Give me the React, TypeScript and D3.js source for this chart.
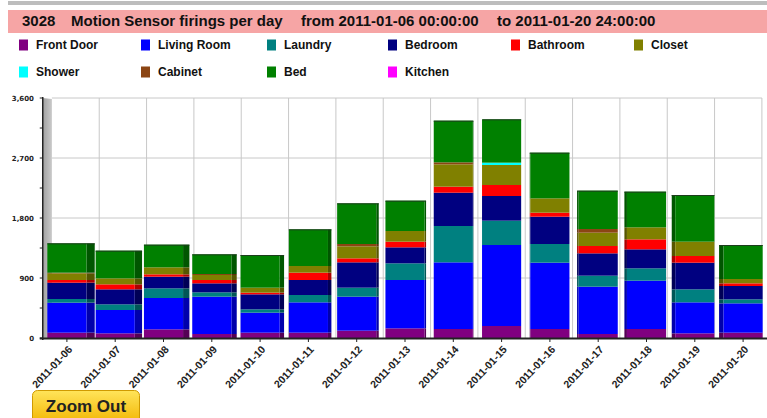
import React from "react";
import * as d3 from "d3";

const dates = [
  "2011-01-06", "2011-01-07", "2011-01-08", "2011-01-09", "2011-01-10",
  "2011-01-11", "2011-01-12", "2011-01-13", "2011-01-14", "2011-01-15",
  "2011-01-16", "2011-01-17", "2011-01-18", "2011-01-19", "2011-01-20",
];

const seriesNames = [
  "Front Door", "Living Room", "Laundry", "Bedroom", "Bathroom",
  "Closet", "Shower", "Cabinet", "Bed", "Kitchen",
];

const seriesColors = [
  "#800080", "#0000FF", "#008080", "#000080", "#FF0000",
  "#808000", "#00FFFF", "#8B4513", "#008000", "#FF00FF",
];

const frontDoor = [80, 70, 130, 60, 80, 80, 110, 145, 135, 180, 135, 60, 135, 70, 80];
const livingRoom = [450, 350, 470, 560, 300, 455, 510, 725, 1000, 1215, 995, 710, 725, 465, 440];
const laundry = [55, 85, 145, 65, 50, 110, 135, 250, 545, 365, 280, 165, 185, 195, 60];
const bedroom = [245, 225, 175, 135, 225, 225, 380, 240, 500, 370, 410, 335, 285, 400, 200];
const bathroom = [40, 75, 35, 50, 25, 110, 60, 85, 90, 165, 60, 110, 150, 100, 40];
const closet = [100, 90, 105, 75, 75, 100, 180, 160, 335, 300, 215, 200, 180, 215, 65];
const shower = [0, 0, 0, 0, 0, 0, 0, 0, 0, 35, 0, 0, 0, 0, 0];
const cabinet = [10, 0, 0, 15, 0, 0, 35, 0, 30, 0, 0, 55, 0, 0, 0];
const bed = [440, 415, 340, 295, 490, 550, 610, 455, 625, 650, 685, 575, 535, 700, 510];
const kitchen = [0, 0, 0, 0, 0, 0, 0, 0, 0, 0, 0, 0, 0, 0, 0];

const yTicks = [0, 900, 1800, 2700, 3600];
const yMinorTicks = [450, 1350, 2250, 3150];

const titleParts = [
  "3028",
  "Motion Sensor firings per day",
  "from 2011-01-06 00:00:00",
  "to 2011-01-20 24:00:00",
];

const W = 767;
const H = 418;

export default function App() {
  const seriesValues = [frontDoor, livingRoom, laundry, bedroom, bathroom, closet, shower, cabinet, bed, kitchen];
  const rows = dates.map((d, i) => {
    const r: any = { date: d };
    seriesNames.forEach((s, k) => (r[s] = seriesValues[k][i]));
    return r;
  });
  const stacked = d3.stack<any>().keys(seriesNames)(rows);

  const plotLeft = 42.75;
  const plotRight = 767.25;
  const x = d3.scaleBand<string>().domain(dates).range([plotLeft, plotRight]).paddingInner(0.19).paddingOuter(0.095);
  const y = d3.scaleLinear().domain([0, 3600]).range([338, 98]);
  const step = x.step();

  const vpX = 500;
  const k = 0.02;
  const back = (v: number) => vpX + (v - vpX) * (1 - k);

  const bandEdges = d3.range(dates.length + 1).map((i) => plotLeft + i * step);
  const fmt = d3.format(",");

  const legendCols = [19, 141, 267, 388, 511, 634];
  const titleX = [22, 71, 301, 497];

  return (
    <svg width={W} height={H} style={{ position: "absolute", left: 0, top: 0, background: "#fff" }}>
      <defs>
        <linearGradient id="wall" x1="0" x2="1" y1="0" y2="0">
          <stop offset="0" stopColor="#a0a0a0" />
          <stop offset="1" stopColor="#cacaca" />
        </linearGradient>
        <linearGradient id="btn" x1="0" x2="0" y1="0" y2="1">
          <stop offset="0" stopColor="#FFE45A" />
          <stop offset="1" stopColor="#F2B400" />
        </linearGradient>
      </defs>
      <rect x={0} y={0} width={W} height={H} fill="#fff" />
      <rect x={8} y={1} width={W - 8} height={4} fill="#bdbdbd" />
      <rect x={8} y={10} width={W - 8} height={23} fill="#F6A5A5" />
      {titleParts.map((t, i) => (
        <text key={t} x={titleX[i]} y={26} fontFamily="Liberation Sans, Arial, sans-serif" fontWeight="bold" fontSize={15} fill="#111">
          {t}
        </text>
      ))}
      {seriesNames.map((s, i) => {
        const col = i % 6;
        const row = Math.floor(i / 6);
        const cy = 45 + row * 27;
        return (
          <g key={s}>
            <rect x={legendCols[col]} y={cy - 5.5} width={9} height={11} fill={seriesColors[i]} />
            <text x={legendCols[col] + 17} y={cy + 4.3} fontFamily="Liberation Sans, Arial, sans-serif" fontWeight="bold" fontSize={12} fill="#111">
              {s}
            </text>
          </g>
        );
      })}
      <g stroke="#c8c8c8" strokeWidth={1}>
        {yTicks.filter((t) => t > 0).map((t) => (
          <line key={t} x1={back(plotLeft)} x2={back(plotRight)} y1={y(t)} y2={y(t)} />
        ))}
        {bandEdges.slice(1).map((e, i) => (
          <line key={i} x1={back(e)} x2={back(e)} y1={y(3600)} y2={y(0)} />
        ))}
      </g>
      <polygon
        points={`${plotLeft},${y(3600)} ${back(plotLeft)},${y(3600) + 1} ${back(plotLeft)},${y(0)} ${plotLeft},${y(0)}`}
        fill="url(#wall)"
      />
      {stacked.map((layer, si) =>
        layer.map((seg, di) => {
          const y0 = y(seg[0]);
          const y1 = y(seg[1]);
          if (y0 - y1 <= 0) return null;
          const x0 = x(dates[di])!;
          const x1 = x0 + x.bandwidth();
          const col = seriesColors[si];
          const dark = d3.color(col)!.darker(1.1).formatHex();
          let side: string | null = null;
          if (x1 < vpX) side = `${x1},${y1} ${back(x1)},${y1} ${back(x1)},${y0} ${x1},${y0}`;
          else if (x0 > vpX) side = `${back(x0)},${y1} ${x0},${y1} ${x0},${y0} ${back(x0)},${y0}`;
          return (
            <g key={`${si}-${di}`}>
              {side && <polygon points={side} fill={dark} />}
              <rect x={x0} y={y1} width={x.bandwidth()} height={y0 - y1} fill={col} />
            </g>
          );
        })
      )}
      {dates.map((d, di) => {
        const top = stacked[stacked.length - 1][di][1];
        const x0 = x(d)!;
        const x1 = x0 + x.bandwidth();
        const xa = x1 < vpX ? x0 : back(x0);
        const xb = x1 < vpX ? back(x1) : x1;
        return <line key={d} x1={xa} x2={xb} y1={y(top) + 0.5} y2={y(top) + 0.5} stroke="#1d3d1d" strokeWidth={1} />;
      })}
      <line x1={plotLeft} x2={plotLeft} y1={y(3600) - 1} y2={y(0) + 2} stroke="#222" strokeWidth={1.5} />
      {yTicks.concat(yMinorTicks).map((t) => (
        <line key={t} x1={plotLeft - 3} x2={plotLeft} y1={y(t)} y2={y(t)} stroke="#222" strokeWidth={1} />
      ))}
      {yTicks.map((t) => (
        <text key={t} x={34} y={y(t) + 2.5} textAnchor="end" fontFamily="DejaVu Sans, Verdana, sans-serif" fontWeight="bold" fontSize={7} fill="#222">
          {fmt(t)}
        </text>
      ))}
      <line x1={plotLeft - 3} x2={W} y1={y(0) + 0.5} y2={y(0) + 0.5} stroke="#222" strokeWidth={2} />
      {dates.map((d) => {
        const cx = x(d)! + x.bandwidth() / 2;
        return (
          <g key={d}>
            <line x1={cx} x2={cx} y1={y(0)} y2={y(0) + 4} stroke="#222" strokeWidth={1} />
            <text
              transform={`translate(${cx + 6},${y(0) + 12}) rotate(-47)`}
              textAnchor="end"
              fontFamily="Liberation Sans, Arial, sans-serif"
              fontWeight="bold"
              fontSize={10.5}
              fill="#222"
            >
              {d}
            </text>
          </g>
        );
      })}
      <rect x={32.5} y={390.5} width={107} height={34} rx={5} fill="url(#btn)" stroke="#D09A00" strokeWidth={1} />
      <text x={86} y={412} textAnchor="middle" fontFamily="Liberation Sans, Arial, sans-serif" fontWeight="bold" fontSize={17} fill="#222">
        Zoom Out
      </text>
    </svg>
  );
}
